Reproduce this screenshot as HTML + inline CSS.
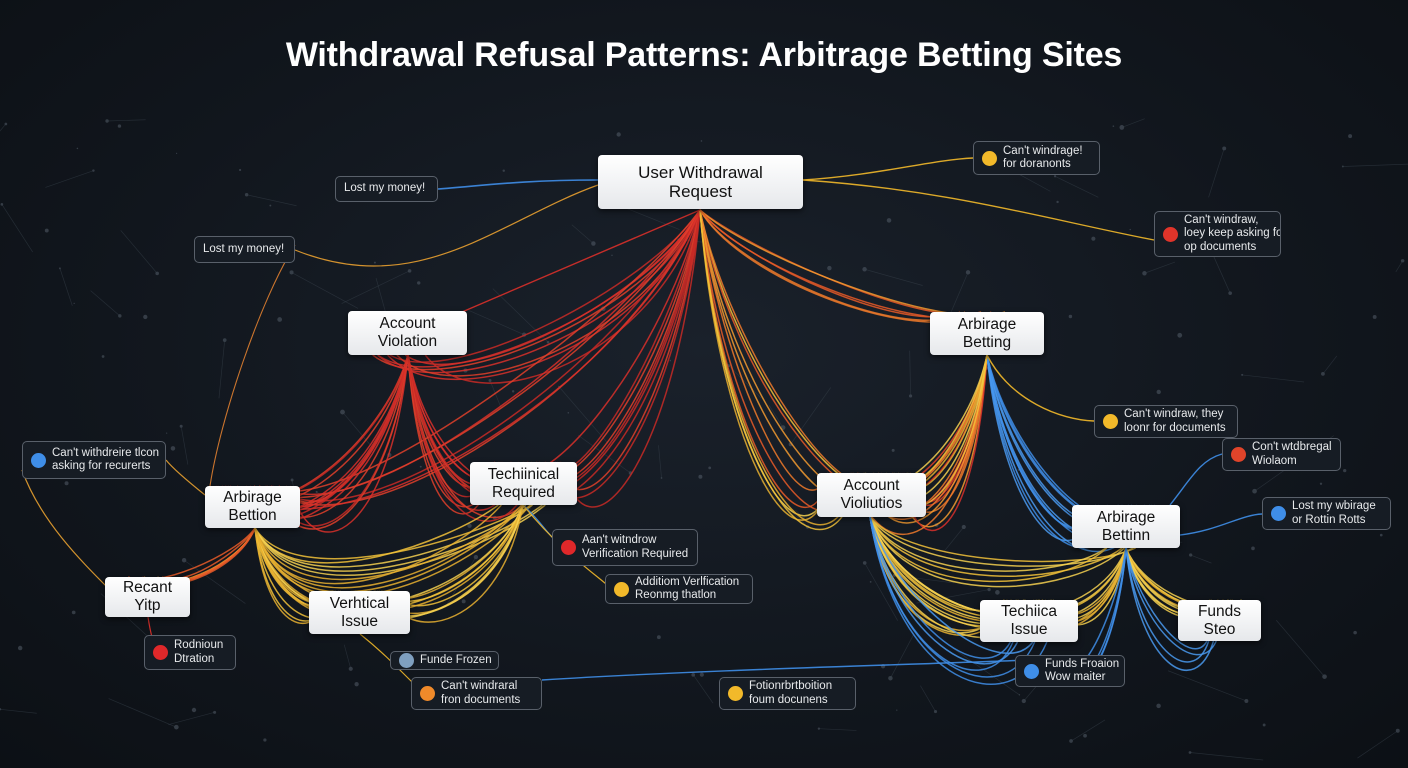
<!DOCTYPE html>
<html><head><meta charset="utf-8"><style>
html,body{margin:0;padding:0;overflow:hidden;width:1408px;height:768px}
body{background:radial-gradient(ellipse at 50% 45%,#1a212b 0%,#11161d 60%,#0c1015 100%);position:relative;font-family:"Liberation Sans",sans-serif}
svg{position:absolute;left:0;top:0}
.t{position:absolute;left:0;width:1408px;top:36px;text-align:center;color:#fff;font-weight:bold;font-size:34px;letter-spacing:-0.2px}
.n{position:absolute;background:linear-gradient(#ffffff,#e6e8eb);border-radius:4px;color:#111;font-size:15.5px;line-height:18px;text-align:center;display:flex;align-items:center;justify-content:center;box-shadow:0 2px 6px rgba(0,0,0,.6)}
.c{position:absolute;background:#161c24;border:1.3px solid #59606a;border-radius:5px;color:#e8eaec;font-size:11.5px;line-height:13.5px;display:flex;align-items:center;box-sizing:border-box;padding-left:8px;white-space:nowrap;overflow:hidden}
.c i{display:inline-block;width:15px;height:15px;border-radius:50%;margin-right:6px;flex:none}
</style></head><body>
<svg id="s" width="1408" height="768"></svg>
<div class="t">Withdrawal Refusal Patterns: Arbitrage Betting Sites</div>

<div class="n" style="left:598px;top:155px;width:205px;height:54px;font-size:17px;line-height:19px">User Withdrawal<br>Request</div>
<div class="n" style="left:348px;top:311px;width:119px;height:44px">Account<br>Violation</div>
<div class="n" style="left:930px;top:312px;width:114px;height:43px">Arbirage<br>Betting</div>
<div class="n" style="left:205px;top:486px;width:95px;height:42px">Arbirage<br>Bettion</div>
<div class="n" style="left:470px;top:462px;width:107px;height:43px">Techiinical<br>Required</div>
<div class="n" style="left:817px;top:473px;width:109px;height:44px">Account<br>Violiutios</div>
<div class="n" style="left:1072px;top:505px;width:108px;height:43px">Arbirage<br>Bettinn</div>
<div class="n" style="left:105px;top:577px;width:85px;height:40px">Recant<br>Yitp</div>
<div class="n" style="left:309px;top:591px;width:101px;height:43px">Verhtical<br>Issue</div>
<div class="n" style="left:980px;top:600px;width:98px;height:42px">Techiica<br>Issue</div>
<div class="n" style="left:1178px;top:600px;width:83px;height:41px">Funds<br>Steo</div>

<div class="c" style="left:335px;top:176px;width:103px;height:26px">Lost my money!</div>
<div class="c" style="left:194px;top:236px;width:101px;height:27px">Lost my money!</div>
<div class="c" style="left:973px;top:141px;width:127px;height:34px"><i style="background:#f2b92a"></i>Can't windrage!<br>for doranonts</div>
<div class="c" style="left:1154px;top:211px;width:127px;height:46px"><i style="background:#e0342a"></i>Can't windraw,<br>loey keep asking for<br>op documents</div>
<div class="c" style="left:1094px;top:405px;width:144px;height:33px"><i style="background:#f2b92a"></i>Can't windraw, they<br>loonr for documents</div>
<div class="c" style="left:1222px;top:438px;width:119px;height:33px"><i style="background:#e0442a"></i>Con't wtdbregal<br>Wiolaom</div>
<div class="c" style="left:1262px;top:497px;width:129px;height:33px"><i style="background:#3f8ee8"></i>Lost my wbirage<br>or Rottin Rotts</div>
<div class="c" style="left:22px;top:441px;width:144px;height:38px"><i style="background:#3f8ee8"></i>Can't withdreire tlcon<br>asking for recurerts</div>
<div class="c" style="left:552px;top:529px;width:146px;height:37px"><i style="background:#e0282a"></i>Aan't witndrow<br>Verification Required</div>
<div class="c" style="left:605px;top:574px;width:148px;height:30px"><i style="background:#f2b92a"></i>Additiom Verlfication<br>Reonmg thatlon</div>
<div class="c" style="left:144px;top:635px;width:92px;height:35px"><i style="background:#e0282a"></i>Rodnioun<br>Dtration</div>
<div class="c" style="left:390px;top:651px;width:109px;height:19px"><i style="background:#7fa0c0"></i>Funde Frozen</div>
<div class="c" style="left:411px;top:677px;width:131px;height:33px"><i style="background:#f08a2a"></i>Can't windraral<br>fron documents</div>
<div class="c" style="left:719px;top:677px;width:137px;height:33px"><i style="background:#f2b92a"></i>Fotionrbrtboition<br>foum docunens</div>
<div class="c" style="left:1015px;top:655px;width:110px;height:32px"><i style="background:#3f8ee8"></i>Funds Froaion<br>Wow maiter</div>

<script>
var s=document.getElementById('s');var ns='http://www.w3.org/2000/svg';
var seed=7;function r(){seed=(seed*16807)%2147483647;return seed/2147483647;}
function p(d,c,w,o){var e=document.createElementNS(ns,'path');e.setAttribute('d',d);e.setAttribute('stroke',c);e.setAttribute('stroke-width',w||1.4);e.setAttribute('fill','none');e.setAttribute('opacity',o||0.9);s.appendChild(e);}
for(var i=0;i<140;i++){var x=r()*1408,y=120+r()*640;var c=document.createElementNS(ns,'circle');c.setAttribute('cx',x);c.setAttribute('cy',y);c.setAttribute('r',r()*1.8+0.6);c.setAttribute('fill','#5a6470');c.setAttribute('opacity',0.5);s.appendChild(c);
if(r()<0.5)p('M'+x+' '+y+' L'+(x+(r()-.5)*160)+' '+Math.min(760,(y+(r()-.5)*120)),'#3a434e',0.7,0.5);}
function b(x1,y1,x2,y2,n,cols,sag,spread){for(var i=0;i<n;i++){var k=i/(Math.max(n-1,1));var sg=sag*(0.6+0.6*k);var ex=x2+(r()-.5)*spread;var cl=cols[Math.floor(r()*cols.length)];
p('M'+x1+' '+y1+' C'+(x1+(ex-x1)*0.15)+' '+(y1+sg)+' '+(ex-(ex-x1)*0.2)+' '+(y2+sg*0.5)+' '+ex+' '+y2,cl,1.5,0.85);}}
var R=['#d8302a','#e0402a','#c82a26'],O=['#f07a2a','#e85a28','#f29a30'],Y=['#f2c23a','#e8b030','#f5d050'],B=['#3f8ee8','#4a9af0'];
b(700,210,408,355,8,R,120,80);
b(700,210,523,462,10,R,200,90);
b(700,210,255,486,6,R,150,60);
b(700,210,870,473,12,Y.concat(O),230,90);
b(700,210,987,312,6,O,60,60);
p('M700 210 L420 330','#d8302a',1.4);
b(408,355,255,486,14,R,150,80);
b(408,355,523,462,14,R,160,80);
b(255,528,148,577,8,O,40,40);
b(255,528,360,591,12,Y,90,60);
b(255,528,523,505,10,Y,110,50);
b(523,505,360,591,10,Y,100,60);
b(987,355,870,473,14,R.concat(O),170,80);
b(987,355,1126,505,12,B,160,70);
b(987,355,880,473,6,Y,120,40);
b(870,517,1029,600,14,Y,110,60);
b(870,517,1126,548,6,Y,80,40);
b(870,517,1029,642,6,B,140,40);
b(1126,548,1029,600,10,Y,80,50);
b(1126,548,1219,600,10,Y,60,50);
b(1126,548,1219,641,4,B,100,30);
b(1126,548,1070,660,4,B,100,30);
p('M598 180 C520 180 480 186 438 189','#3f8ee8',1.6);
p('M598 185 C500 220 420 300 295 250','#e8a030',1.2);
p('M803 180 C880 175 930 160 973 158','#f2b92a',1.4);
p('M803 180 C950 190 1050 220 1154 240','#f2b92a',1.4);
p('M987 355 C1010 400 1060 420 1094 421','#f2b92a',1.4);
p('M1170 505 C1190 480 1200 460 1222 454','#3f8ee8',1.4);
p('M1180 535 C1220 530 1240 515 1262 514','#3f8ee8',1.4);
p('M205 495 C180 475 170 465 166 460','#e8a030',1.2);
p('M22 470 C40 520 80 560 110 590','#e8a030',1.2);
p('M148 617 C150 630 152 640 155 645','#e0302a',1.2);
p('M523 505 C540 520 548 535 560 545','#3f8ee8',1.2);
p('M523 505 C560 550 590 570 612 589','#f2b92a',1.2);
p('M360 634 C380 650 390 660 420 690','#f2b92a',1.2);
p('M542 680 C700 670 900 665 1030 660','#3f8ee8',1.4);
p('M295 245 C260 300 220 420 210 486','#e08030',1.1);
</script>
</body></html>
